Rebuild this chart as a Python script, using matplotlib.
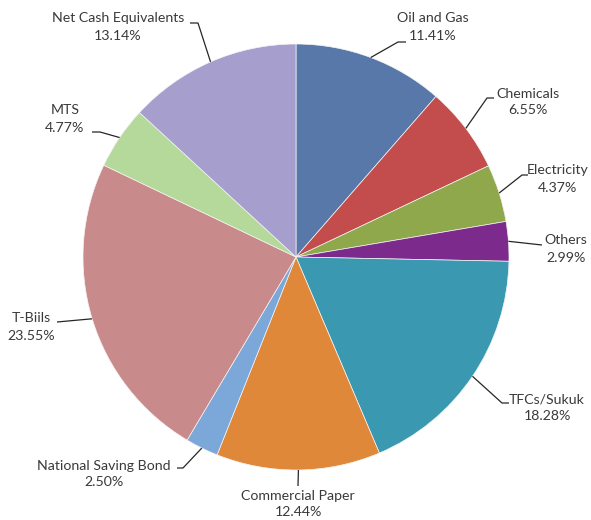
import numpy as np
import matplotlib
matplotlib.use("Agg")
import matplotlib.pyplot as plt

plt.rcParams["font.family"] = ["Lato", "DejaVu Sans"]

# data, clockwise from 12 o'clock
labels = ["Oil and Gas", "Chemicals", "Electricity", "Others", "TFCs/Sukuk",
          "Commercial Paper", "National Saving Bond", "T-Biils", "MTS",
          "Net Cash Equivalents"]
shares = [11.41, 6.55, 4.37, 2.99, 18.28, 12.44, 2.50, 23.55, 4.77, 13.14]
colors = ["#5878A9", "#C24D4C", "#8FA84C", "#7D2A8D", "#3A99B1",
          "#E0883A", "#7CA7D9", "#C98A8B", "#B5D99A", "#A69FCD"]

W, H = 591, 520
CX, CY, R = 296, 257, 213


def px(x, y):
    # pixel position -> data units (pie radius = 1)
    return (x - CX) / R, (CY - y) / R


# label layout in pixels: text centre, then the leader's elbow and end
layout = {
    "Oil and Gas": ((433, 27), [(398, 42), (406, 42)]),
    "Chemicals": ((528, 102), [(487, 98), (494, 98)]),
    "Electricity": ((558, 179), [(522, 175), (528, 175)]),
    "Others": ((566, 249), [(542, 245)]),
    "TFCs/Sukuk": ((547, 408), [(502, 403), (509, 403)]),
    "Commercial Paper": ((298, 504), [(298, 486)]),
    "National Saving Bond": ((104, 474), [(183, 468), (177, 468)]),
    "T-Biils": ((31, 327), [(57, 322)]),
    "MTS": ((65, 119), [(100, 132), (92, 132)]),
    "Net Cash Equivalents": ((118, 27), [(198, 23), (190, 23)]),
}

fig = plt.figure(figsize=(W / 100, H / 100), dpi=100)
ax = fig.add_axes([0, 0, 1, 1])

wedges, _ = ax.pie(shares, colors=colors, startangle=90, counterclock=False,
                   radius=1, wedgeprops=dict(edgecolor="#f4f4f4", linewidth=0.5))

for w, name, val in zip(wedges, labels, shares):
    mid = np.deg2rad((w.theta1 + w.theta2) / 2)
    ax_pt = (np.cos(mid), np.sin(mid))
    (tx, ty), path = layout[name]
    pts = [ax_pt] + [px(*p) for p in path]
    xs, ys = zip(*pts)
    ax.plot(xs, ys, color="#262626", lw=0.9, solid_capstyle="butt")
    ax.text(*px(tx, ty), f"{name}\n{val:.2f}%", ha="center", va="center",
            fontsize=10.2, color="#3a3a3a", linespacing=1.5)

ax.set_xlim(-CX / R, (W - CX) / R)
ax.set_ylim((CY - H) / R, CY / R)
ax.set_aspect("auto")
ax.axis("off")

fig.savefig("out.png", dpi=100, facecolor="white")
